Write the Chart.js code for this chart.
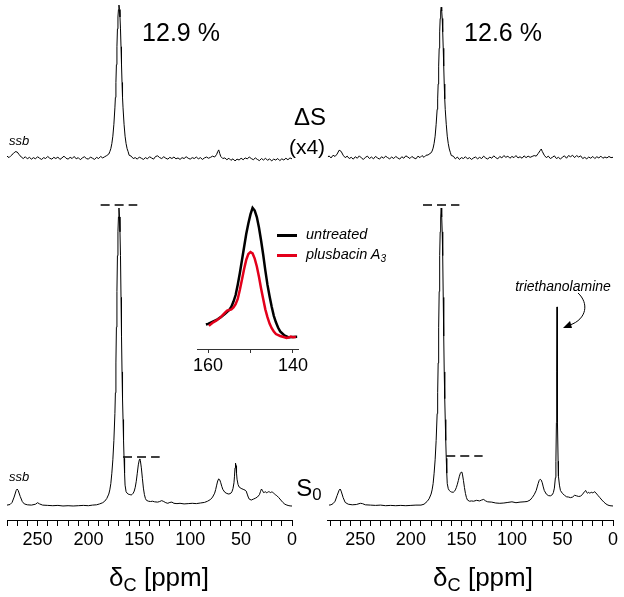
<!DOCTYPE html>
<html>
<head>
<meta charset="utf-8">
<script src="https://cdn.jsdelivr.net/npm/chart.js@4.4.1/dist/chart.umd.min.js"></script>
<style>
  body { margin: 0; background: #fff; }
  #wrap { position: relative; width: 624px; height: 597px; overflow: hidden; font-family: "Liberation Sans", Arial, sans-serif; color: #000; }
  canvas { position: absolute; }
  .t { position: absolute; white-space: nowrap; line-height: 1; transform: translate(-50%, -50%); }
  .i { font-style: italic; }
  sub { font-size: 70%; vertical-align: -0.25em; }
  .sw { position: absolute; width: 20px; height: 3px; }
</style>
</head>
<body>
<div id="wrap">
  <canvas id="cLeft" width="300" height="597" style="left:0;top:0"></canvas>
  <canvas id="cRight" width="304" height="597" style="left:320px;top:0"></canvas>
  <canvas id="cInset" width="130" height="185" style="left:190px;top:195px"></canvas>

  <div class="t" style="left:181px;top:32px;font-size:25px">12.9 %</div>
  <div class="t" style="left:503px;top:32px;font-size:25px">12.6 %</div>
  <div class="t" style="left:310px;top:117px;font-size:24px">&Delta;S</div>
  <div class="t" style="left:307px;top:146px;font-size:21px">(x4)</div>
  <div class="t i" style="left:19px;top:140px;font-size:13px">ssb</div>
  <div class="t i" style="left:19px;top:476px;font-size:13px">ssb</div>
  <div class="t" style="left:309px;top:490px;font-size:24px">S<sub>0</sub></div>
  <div class="t i" style="left:563px;top:286px;font-size:14px">triethanolamine</div>
  <div class="t" style="left:159px;top:579px;font-size:26px">&delta;<sub>C</sub> [ppm]</div>
  <div class="t" style="left:483px;top:579px;font-size:26px">&delta;<sub>C</sub> [ppm]</div>

  <!-- Legende im Inset -->
  <div class="sw" style="left:277px;top:234px;background:#000"></div>
  <div class="sw" style="left:277px;top:254px;background:#e3001b"></div>
  <div class="i" style="position:absolute;left:306px;top:227px;font-size:14.5px;line-height:1">untreated</div>
  <div class="i" style="position:absolute;left:306px;top:247px;font-size:14.5px;line-height:1">plusbacin A<sub>3</sub></div>

  <svg style="position:absolute;left:0;top:0" width="624" height="597">
    <path d="M578 293 C589 303 587 319 570 325" fill="none" stroke="#000" stroke-width="1"/>
    <polygon points="563,328 570,321 572,328" fill="#000"/>
  </svg>
</div>

<script>
// ppm / Intensität (Carbonyl-Peak von S0 = 100), ΔS schon x4 skaliert
const dsLeft = [
  [280,0.3],[278,-0.2],[276,0.5],[274,1.1],[272,1.8],[270,1.7],[268,0.8],[266,0.0],[264,-0.5],[262,0.1],
  [260,-0.6],[258,-0.1],[256,-0.7],[254,-0.2],[252,-0.6],[250,0.1],[248,-0.4],[246,-0.8],[244,-0.2],[242,-0.5],
  [240,0.2],[238,-0.4],[236,-0.7],[234,-0.1],[232,-0.5],[230,0.0],[228,-0.8],[226,-0.3],[224,0.3],[222,-0.4],
  [220,-0.7],[218,-0.1],[216,-0.5],[214,0.2],[212,-0.6],[210,-0.2],[208,-0.9],[206,-0.3],[204,0.1],[202,-0.5],
  [200,-0.7],[198,0.0],[196,-0.4],[194,-0.8],[192,-0.1],[190,-0.5],[188,0.2],[186,-0.3],[184,0.1],[182,0.5],
  [180,1.0],[179,1.8],[178,2.8],[177,4.5],[176,7],[175,11],[174,16.5],[173.5,20],[173,25],[172.5,31],
  [172,37],[171.5,43],[171,47],[170.5,49.5],[170,51],[169.5,49.5],[169,47],[168.5,43],[168,37],[167.5,31],
  [167,25],[166.5,20],[166,16.5],[165,11],[164,7],[163,4.5],[162,2.8],[161,1.8],[160,0.6],[158,0.3],
  [156,-0.5],[154,-0.2],[152,-0.7],[150,0.0],[148,-0.4],
  [146,-0.8],[144,-0.2],[142,-0.6],[140,0.1],[138,-0.3],[136,-0.7],[134,0.2],[132,0.4],[130,-0.2],[128,-0.5],
  [126,0.1],[124,-0.4],[122,-0.7],[120,-0.1],[118,-0.5],[116,0.0],[114,-0.6],[112,-0.3],[110,-0.8],[108,-0.2],
  [106,-0.5],[104,0.1],[102,-0.4],[100,-0.7],[98,-0.2],[96,-0.5],[94,0.0],[92,-0.6],[90,-0.2],[88,-0.8],
  [86,-0.3],[84,0.0],[82,-0.4],[80,-0.1],[78,0.3],[76,0.0],[74,0.9],[73,1.8],[72,2.4],[71,1.2],
  [70,0.2],[68,-0.5],[66,-0.3],[64,-0.9],[62,-0.4],[60,-1.1],[58,-0.6],[56,-1.3],[54,-0.7],[52,-1.0],
  [50,-0.4],[48,-0.9],[46,-0.3],[44,-0.6],[42,0.0],[40,-0.5],[38,-0.9],[36,-0.3],[34,-0.8],[32,-1.2],
  [30,-0.5],[28,-1.0],[26,-0.4],[24,-1.1],[22,-0.6],[20,-1.3],[18,-0.7],[16,-1.0],[14,-0.5],[12,-1.2],
  [10,-0.6],[8,-1.0],[6,-0.4],[4,-0.9],[2,-0.3],[0,-0.6]
];

const dsRight = [
  [282,0.0],[281,0.4],[279,-0.3],[277,0.6],[275,0.2],[273,1.0],[271,2.3],[269,1.9],[267,0.6],[265,-0.2],
  [263,0.3],[261,-0.5],[259,-0.1],[257,-0.7],[255,0.1],[253,-0.4],[251,0.4],[249,-0.3],[247,-0.8],[245,-0.1],
  [243,0.3],[241,-0.5],[239,0.0],[237,-0.6],[235,0.2],[233,-0.3],[231,-0.7],[229,0.1],[227,-0.4],[225,0.3],
  [223,-0.2],[221,-0.6],[219,0.0],[217,-0.5],[215,0.2],[213,-0.3],[211,-0.7],[209,0.1],[207,-0.4],[205,0.4],
  [203,0.0],[201,-0.5],[199,0.2],[197,-0.3],[195,-0.6],[193,0.3],[191,-0.2],[189,0.5],[187,-0.1],[185,0.6],
  [183,0.7],[181,1.2],[180,1.4],[179,2.0],[178,3.0],[177,4.6],[176,7],[175,11],[174,16],[173.5,19.5],
  [173,24.5],[172.5,30.5],[172,36.5],[171.5,42],[171,46.5],[170.5,49],[170,50.3],[169.5,49],[169,46.5],[168.5,42],
  [168,36.5],[167.5,30.5],[167,24.5],[166.5,19.5],[166,16],[165,11],[164,7],[163,4.5],[162,2.7],[161,1.6],
  [160,0.5],[158,0.3],[156,-0.6],[154,0.0],[152,-0.8],
  [150,-0.2],[148,-0.5],[146,0.1],[144,-0.6],[142,-0.2],[140,-0.8],[138,-0.3],[136,0.0],[134,-0.6],[132,-0.1],
  [130,-0.5],[128,0.3],[126,-0.3],[124,-0.7],[122,0.0],[120,-0.4],[118,0.4],[116,-0.2],[114,-0.6],[112,0.2],
  [110,-0.3],[108,0.5],[106,-0.1],[104,0.3],[102,-0.4],[100,0.2],[98,-0.2],[96,0.5],[94,-0.3],[92,0.1],
  [90,-0.4],[88,0.4],[86,-0.2],[84,0.3],[82,-0.1],[80,0.2],[78,0.5],[76,0.3],[74,1.2],[72,2.2],
  [71,2.7],[70,1.9],[68,0.6],[66,-0.2],[64,0.3],[62,-0.5],[60,-0.1],[58,0.4],[56,-0.5],[54,-0.1],
  [52,-0.7],[50,0.0],[48,0.4],[46,-0.4],[44,0.5],[42,0.1],[40,0.6],[38,-0.2],[36,0.5],[34,0.0],
  [32,0.4],[30,-0.5],[28,-0.1],[26,-0.6],[24,0.0],[22,-0.4],[20,0.2],[18,-0.5],[16,0.1],[14,-0.3],
  [12,0.3],[10,-0.4],[8,0.0],[6,-0.3],[4,0.2],[2,-0.2],[0,-0.1]
];

const s0Left = [
  [280,0.3],[277,0.5],[275,1.2],[273,3.0],[271,5.2],[270,5.7],[269,5.2],[267,3.2],[265,1.5],[263,0.7],
  [260,0.4],[256,0.3],[252,0.6],[250,1.1],[248,0.7],[245,0.3],[240,0.2],[235,0.1],[230,0.2],[225,0.0],
  [220,0.1],[215,0.0],[210,0.1],[205,0.2],[200,0.1],[196,0.3],[192,0.4],[189,0.7],[186,1.1],[184,1.6],
  [182,2.5],[180,4.0],[179,5.4],[178,7.5],[177,11],[176,15.5],[175,22],[174,31],[173.5,38],[173,48],
  [172.5,60],[172,72],[171.5,84],[171,92],[170.5,97],[170,100],[169.5,97],[169,92],[168.5,84],[168,70],
  [167.5,57],[167,45],[166.5,36],[166,29],[165.5,22],[165,16],[164.5,11],[164,7],[163,4.8],[162,4.3],
  [161,4.0],[160,3.9],[159,3.8],[158,3.7],[157,3.9],[156,4.3],[155,5.0],
  [154,6.3],[153,8.3],[152,11.0],[151,13.8],[150,15.5],[149.5,15.8],[149,15.3],[148,12.8],[147,9.3],[146,6.0],
  [145,3.8],[144,2.5],[143,1.9],[141,1.6],[139,1.5],[137,1.6],[135,1.4],[132,1.3],[130,1.5],[128,1.8],
  [126,1.5],[124,1.1],[122,0.9],[120,1.2],[118,1.3],[116,0.9],[113,0.8],[110,0.9],[106,0.7],[102,0.8],
  [98,0.9],[94,0.8],[90,1.0],[86,1.2],[83,1.6],[80,2.2],[78,3.0],[76,4.3],[75,5.5],[74,7.0],
  [73,8.4],[72,9.1],[71,8.8],[70,7.8],[69,6.6],[68,5.6],[66,4.6],[64,4.2],[62,4.0],[60,4.3],
  [59,4.8],[58,5.8],[57,7.8],[56.5,10],[56,12.8],[55.5,14.4],[55,13.5],[54.5,11],[54,9],[53,7.2],
  [52,6.4],[50,5.9],[48,5.6],[46,5.3],[45,5.0],[44,4.0],[43,3.0],[42,2.3],[40,2.0],[38,2.3],
  [36,2.6],[34,3.0],[32,3.8],[31,4.8],[30,5.7],[29,5.2],[28,4.5],[27,4.6],[26,4.8],[25,4.4],
  [24,4.6],[23,4.8],[22,4.7],[21,4.5],[20,4.7],[19,4.6],[18,4.3],[17,4.0],[16,3.7],[15,3.5],
  [13,2.8],[11,2.0],[9,1.2],[7,0.6],[5,0.3],[3,0.1],[1,0.0],[0,0.0]
];

const s0Right = [
  [281,0.3],[279,0.4],[277,0.8],[275,1.6],[273,3.5],[271,5.3],[270,5.7],[269,5.0],[267,2.8],[265,1.2],
  [262,0.6],[258,0.4],[254,0.5],[250,0.9],[248,0.8],[245,0.4],[240,0.3],[235,0.2],[230,0.3],[225,0.1],
  [220,0.2],[215,0.1],[210,0.2],[205,0.1],[200,0.2],[195,0.3],[190,0.3],[187,0.6],[184,1.5],[182,2.4],
  [180,4.0],[179,5.4],[178,7.5],[177,11],[176,15.5],[175,22],[174,31],[173.5,38],[173,48],[172.5,60],
  [172,72],[171.5,84],[171,92],[170.5,97],[170,100],[169.5,97],[169,92],[168.5,84],[168,70],[167.5,57],
  [167,45],[166.5,36],[166,29],[165.5,22],[165,16],[164.5,11],[164,7.5],[163,5.8],[162,5.2],[161,4.9],
  [160,4.7],[158,4.6],[157,4.9],[156,5.4],[155,6.2],[154,7.3],[153,8.6],
  [152,10.0],[151,11.0],[150,11.4],[149.5,11.3],[149,10.7],[148,8.6],[147,6.2],[146,4.2],[145,2.8],[144,2.0],
  [142,1.6],[140,1.7],[138,1.6],[135,1.9],[132,1.7],[130,2.0],[128,2.2],[126,1.7],[124,1.4],[120,1.3],
  [116,1.0],[112,0.9],[108,1.0],[104,1.2],[100,1.4],[96,1.1],[92,1.3],[88,1.4],[85,1.5],[82,2.0],
  [80,2.8],[78,3.8],[76,5.2],[75,6.4],[74,7.6],[73,8.6],[72,9.0],[71,8.7],[70,7.8],[69,6.4],
  [68,5.2],[66,4.0],[64,3.5],[62,3.4],[60,3.8],[59,4.5],[58,6.0],[57,9.5],[56.5,15],[56,28],
  [55.7,45],[55.4,66.8],[55.1,45],[54.8,28],[54.3,15],[54,10],[53,7],[52,5.2],[50,4.2],[48,3.6],
  [46,3.1],[44,3.0],[42,2.8],[40,3.0],[38,3.6],[36,3.4],[34,3.2],[32,3.3],[30,4.0],[28,4.9],
  [27,5.2],[26,4.5],[25,4.3],[24,4.6],[23,4.3],[22,4.5],[21,4.6],[20,4.4],[19,4.6],[18,4.8],
  [17,4.4],[16,4.0],[15,3.6],[13,2.8],[11,2.0],[9,1.3],[7,0.7],[5,0.3],[3,0.1],[0,0.0]
];

// gestrichelte Markierungen (ppm, Intensität)
const dashTopLeft = [[188,101],[152,101]];
const dashMidLeft = [[166,16.4],[130,16.4]];
const dashTopRight = [[188,101],[152,101]];
const dashMidRight = [[165,16.8],[129,16.8]];

// Inset 160-140 ppm (Peak unbehandelt = 100)
const insetUntreated = [
  [160.5,10.3],[160,10.8],[159,12.3],[158,13.8],[157,16],[156,18.5],[155,21.5],[154.5,24],[154,28],[153.5,33],
  [153,41],[152.5,50],[152,60],[151.5,70],[151,80],[150.5,88],[150,95],[149.5,100],[149,98],[148.5,93],
  [148,85],[147.5,75],[147,64],[146.5,52],[146,41],[145.5,32],[145,24],[144.5,17],[144,12],[143.5,8],
  [143,5],[142,2],[141,0.5],[140,0.8],[139,0.9]
];
const insetPlusbacin = [
  [159.8,9.3],[159,11.5],[158,13.5],[157,16],[156,19.5],[155.5,21],[155,21.5],[154.5,22],[154,23.5],[153.5,26],
  [153,30],[152.5,37],[152,45],[151.5,53],[151,60],[150.5,64.5],[150,66],[149.5,65],[149,61],[148.5,55],
  [148,47],[147.5,38],[147,30],[146.5,22],[146,16],[145.5,11],[145,7.5],[144.5,5],[144,3],[143,1.5],
  [142,0.5],[141.5,0],[141,0.3],[140.5,1],[140,0.6],[139.3,0.8]
];
const insetTickLabels = [160, 140];

const pts = arr => arr.map(p => ({ x: p[0], y: p[1] }));
const font = { family: '"Liberation Sans", Arial, sans-serif', size: 18 };

function line(data, axis, extra) {
  return Object.assign({
    data: pts(data), yAxisID: axis, borderColor: '#000', borderWidth: 1,
    pointRadius: 0, tension: 0, fill: false
  }, extra || {});
}

function makePanel(id, xMax, padRight, delta, s0, dashA, dashB) {
  new Chart(document.getElementById(id), {
    type: 'line',
    data: {
      datasets: [
        line(delta, 'yTop'),
        line(s0, 'yBot'),
        line(dashA, 'yBot', { borderWidth: 1.5, borderDash: [9, 5] }),
        line(dashB, 'yBot', { borderWidth: 1.5, borderDash: [9, 5] })
      ]
    },
    options: {
      responsive: false,
      animation: false,
      devicePixelRatio: 1,
      layout: { padding: { left: 7, right: padRight, top: 0, bottom: 0 } },
      plugins: { legend: { display: false }, tooltip: { enabled: false } },
      scales: {
        x: {
          type: 'linear', reverse: true, min: 0, max: xMax,
          afterFit: s => { s.height = 77; s.paddingLeft = 0; s.paddingRight = 0; },
          border: { display: true, color: '#000', width: 1 },
          grid: { drawOnChartArea: false, drawTicks: true, tickLength: 6, color: '#000' },
          ticks: {
            stepSize: 10, includeBounds: false, autoSkip: false, maxRotation: 0,
            padding: 3, color: '#000', font: font,
            callback: v => (v % 50 === 0 ? v : '')
          }
        },
        yBot: { type: 'linear', display: false, min: -4.7, max: 169.8 },
        yTop: { type: 'linear', display: false, min: -121.8, max: 52.7 }
      }
    }
  });
}

makePanel('cLeft', 280, 8, dsLeft, s0Left, dashTopLeft, dashMidLeft);
makePanel('cRight', 283, 11, dsRight, s0Right, dashTopRight, dashMidRight);

new Chart(document.getElementById('cInset'), {
  type: 'line',
  data: {
    datasets: [
      { data: pts(insetPlusbacin), borderColor: '#e3001b', borderWidth: 2.5, pointRadius: 0, order: 0 },
      { data: pts(insetUntreated), borderColor: '#000', borderWidth: 2.5, pointRadius: 0, order: 1 }
    ]
  },
  options: {
    responsive: false,
    animation: false,
    devicePixelRatio: 1,
    layout: { padding: { left: 7, right: 22, top: 5, bottom: 0 } },
    plugins: { legend: { display: false }, tooltip: { enabled: false } },
    scales: {
      x: {
        type: 'linear', reverse: true, min: 138.8, max: 162.6,
        afterFit: s => { s.height = 31; s.paddingLeft = 0; s.paddingRight = 0; },
        border: { display: true, color: '#333', width: 1 },
        grid: { drawOnChartArea: false, drawTicks: true, tickLength: 4, color: '#333' },
        ticks: {
          stepSize: 10, includeBounds: false, autoSkip: false, maxRotation: 0, padding: 2,
          color: '#000', font: font,
          callback: v => (insetTickLabels.includes(v) ? v : '')
        }
      },
      y: { type: 'linear', display: false, min: -8.5, max: 106.1 }
    }
  }
});
</script>
</body>
</html>
